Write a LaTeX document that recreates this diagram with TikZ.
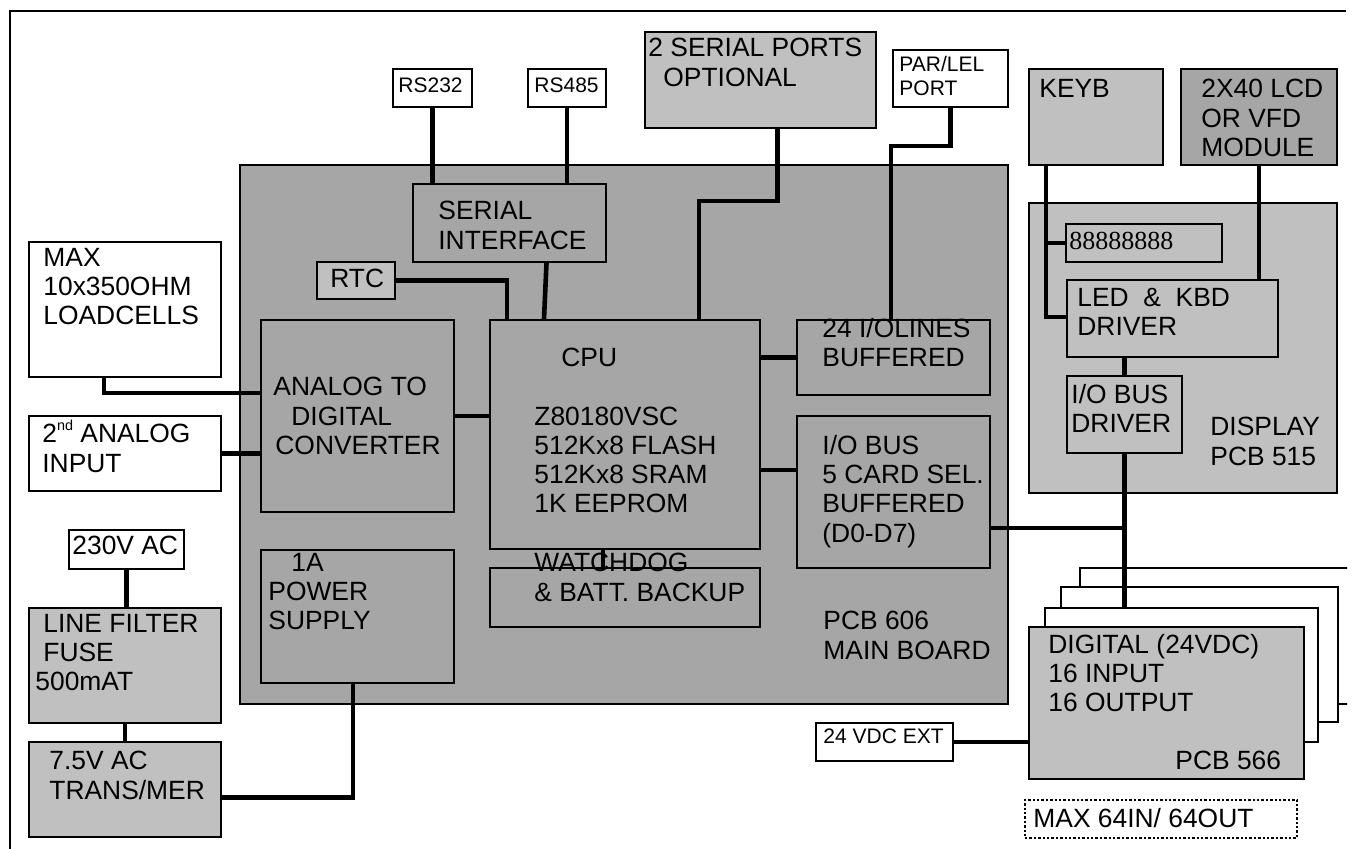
\documentclass[tikz,border=0pt]{standalone}
\usepackage{fontspec}
\setmainfont{Liberation Sans}
\newfontfamily\seriffam{Liberation Serif}
\usepackage{tikz}
\usetikzlibrary{fit}
\usetikzlibrary{calc}
\definecolor{platine}{RGB}{166,166,166}
\definecolor{carte}{RGB}{192,192,192}
\tikzset{
  bloc/.style={draw, line width=1pt, inner sep=0pt, fill=#1},
  bloc/.default=white,
  fil/.style={line width=2.3pt},
  texte/.style={anchor=north west, inner sep=0pt, align=left, font=\fontsize{13.2}{14.6}\selectfont},
  petit/.style={texte, font=\fontsize{10.5}{12}\selectfont},
}

\begin{document}
\begin{tikzpicture}[x=0.5pt, y=-0.5pt,
  pointille/.style={draw, line width=1.1pt, dash pattern=on 1.2pt off 1pt, inner sep=0pt}]
  \useasboundingbox (0,0) rectangle (1353,849);
  \clip (0,0) rectangle (1347,849);
  % cadre
  \draw[line width=1pt] (10,849) |- (1346,11);
  % carte principale PCB 606
  \node[bloc=platine, fit={(240,165) (1008,704)}] (mainb) {};
  \node[bloc=platine, fit={(413,184) (606,262)}] (serint) {};
  \node[bloc=carte, fit={(317,262) (395,299)}] (rtc) {};
  \node[bloc=platine, fit={(261,320) (454,512)}] (adc) {};
  \node[bloc=platine, fit={(261,550) (454,683)}] (psu) {};
  \node[bloc=platine, fit={(490,320) (760,549)}] (cpu) {};
  \node[bloc=platine, fit={(490,568) (760,627)}] (wdog) {};
  \node[bloc=platine, fit={(797,320) (990,395)}] (io24) {};
  \node[bloc=platine, fit={(797,416) (990,568)}] (iobus) {};
  % ports en haut
  \node[bloc, fit={(393,69) (472,107)}] (rs232) {};
  \node[bloc, fit={(528,69) (606,107)}] (rs485) {};
  \node[bloc=carte, fit={(645,32) (876,128)}] (ports) {};
  \node[bloc, fit={(893,50) (1008,107)}] (par) {};
  % affichage PCB 515
  \node[bloc=carte, fit={(1029,69) (1163,165)}] (keyb) {};
  \node[bloc=platine, fit={(1181,69) (1337,165)}] (lcd) {};
  \node[bloc=carte, fit={(1029,203) (1337,493)}] (dispb) {};
  \node[bloc=carte, fit={(1066,224) (1222,262)}] (seg) {};
  \node[bloc=carte, fit={(1067,280) (1278,357)}] (led) {};
  \node[bloc=carte, fit={(1067,376) (1182,453)}] (iodrv) {};
  % entrees a gauche
  \node[bloc, fit={(29,242) (221,377)}] (load) {};
  \node[bloc, fit={(29,416) (221,491)}] (ana2) {};
  \node[bloc, fit={(69,530) (184,569)}] (ac) {};
  \node[bloc=carte, fit={(29,608) (221,723)}] (filt) {};
  \node[bloc=carte, fit={(29,742) (221,837)}] (trafo) {};
  % cartes E/S empilees PCB 566
  \node[bloc, fit={(1080,568) (1360,704)}] (card3) {};
  \node[bloc, fit={(1061,587) (1338,722)}] (card2) {};
  \node[bloc, fit={(1045,608) (1318,742)}] (card1) {};
  \node[bloc=carte, fit={(1029,627) (1304,779)}] (card0) {};
  \node[bloc, fit={(816,723) (953,761)}] (vdc) {};
  \node[pointille, fit={(1025,800) (1297,838)}] (maxio) {};
  % textes
  \node[petit] (t-rs232) at (398,77) {RS232};
  \node[petit] (t-rs485) at (534,77) {RS485};
  \node[texte] (t-ports) at (648,38) {2 SERIAL PORTS\\\hspace*{7.5pt}OPTIONAL};
  \node[petit] (t-par) at (899,56) {PAR/LEL\\PORT};
  \node[texte] (t-keyb) at (1039,79) {KEYB};
  \node[texte] (t-lcd) at (1201,79) {2X40 LCD\\OR VFD\\MODULE};
  \node[texte, font=\seriffam\fontsize{13}{14}\selectfont] (t-seg) at (1069,232) {88888888};
  \node[texte] (t-led) at (1077,288) {LED\ \ \&\ \ KBD\\DRIVER};
  \node[texte] (t-iodrv) at (1071,384) {I/O BUS\\DRIVER};
  \node[texte] (t-disp) at (1210,417) {DISPLAY\\PCB 515};
  \node[texte] (t-load) at (43,248) {MAX\\10x350OHM\\LOADCELLS};
  \node[texte] (t-rtc) at (330,269) {RTC};
  \node[texte] (t-serint) at (438,201) {SERIAL\\INTERFACE};
  \node[texte] (t-adc) at (273,377) {ANALOG TO\\\hspace*{9pt}DIGITAL\\\hspace*{1pt}CONVERTER};
  \node[texte] (t-ana2) at (42,420) {2\raisebox{6pt}{\fontsize{7.2}{8}\selectfont nd} ANALOG\\INPUT};
  \node[texte] (t-ac) at (72,536) {230V AC};
  \node[texte] (t-psu) at (268,553) {\hspace*{11.5pt}1A\\POWER\\SUPPLY};
  \node[texte] (t-filt) at (35,614) {\hspace*{4pt}LINE FILTER\\\hspace*{4pt}FUSE\\500mAT};
  \node[texte] (t-trafo) at (49,751) {7.5V AC\\TRANS/MER};
  \node[texte] (t-cpu) at (534,348) {\hspace*{13.5pt}CPU\\[14.6pt]Z80180VSC\\512Kx8 FLASH\\512Kx8 SRAM\\1K EEPROM};
  \node[texte] (t-wdog) at (534,553) {WATCHDOG\\\& BATT. BACKUP};
  \node[texte] (t-io24) at (822,318) {24 I/OLINES\\BUFFERED};
  \node[texte] (t-iobus) at (822,435) {I/O BUS\\5 CARD SEL.\\BUFFERED\\(D0-D7)};
  \node[texte] (t-mainb) at (823,611) {PCB 606\\MAIN BOARD};
  \node[texte] (t-card) at (1048,634) {DIGITAL (24VDC)\\16 INPUT\\16 OUTPUT};
  \node[texte] (t-pcb566) at (1175,751) {PCB 566};
  \node[petit] (t-vdc) at (823,728) {24 VDC EXT};
  \node[texte] (t-maxio) at (1033,808) {MAX 64IN/ 64OUT};
  % liaisons
  \foreach \a/\b in {rs232/serint,rs485/serint,lcd/led,iodrv/card1,ac/filt,filt/trafo}
    \draw[fil] (\a.south) -- (\a.south |- \b.north);
  \foreach \a/\b in {ana2/adc,adc/cpu,vdc/card0}
    \draw[fil] (\a.east) -- (\a.east -| \b.west);
  \draw[fil] (io24.west -| cpu.east) -- (io24.west);
  \draw[fil] ($(iobus.north west)+(0,55)$) -- ($(cpu.north east)+(0,151)$);
  \draw[fil] ($(ports.south)+(17,0)$) -- ++(0,72) -| ($(cpu.north west)+(210,0)$);
  \draw[fil] (par.south) -- ++(0,38) -| ($(io24.north west)+(95,0)$);
  \draw[fil] ($(serint.south)+(37,0)$) -- ($(cpu.north west)+(55,0)$);
  \draw[fil] (rtc.east) -| ($(cpu.north west)+(18,0)$);
  \draw[fil] ($(load.south west)+(76,0)$) |- ($(adc.north west)+(0,74)$);
  \draw[fil] ($(trafo.east)+(0,8)$) -| ($(psu.south west)+(93,0)$);
  \draw[fil] ($(cpu.south west)+(114,0)$) -- ($(wdog.north west)+(114,0)$);
  \draw[fil] ($(keyb.south west)+(18,0)$) |- (seg.west);
  \draw[fil] ($(keyb.south west)+(18,0)$) |- ($(led.north west)+(0,38)$);
  \draw[fil] (led.south -| iodrv.north) -- (iodrv.north);
  \coordinate (bus) at ($(iobus.north east)+(0,113)$);
  \draw[fil] (bus) -- (bus -| iodrv.south);
\end{tikzpicture}
\end{document}
